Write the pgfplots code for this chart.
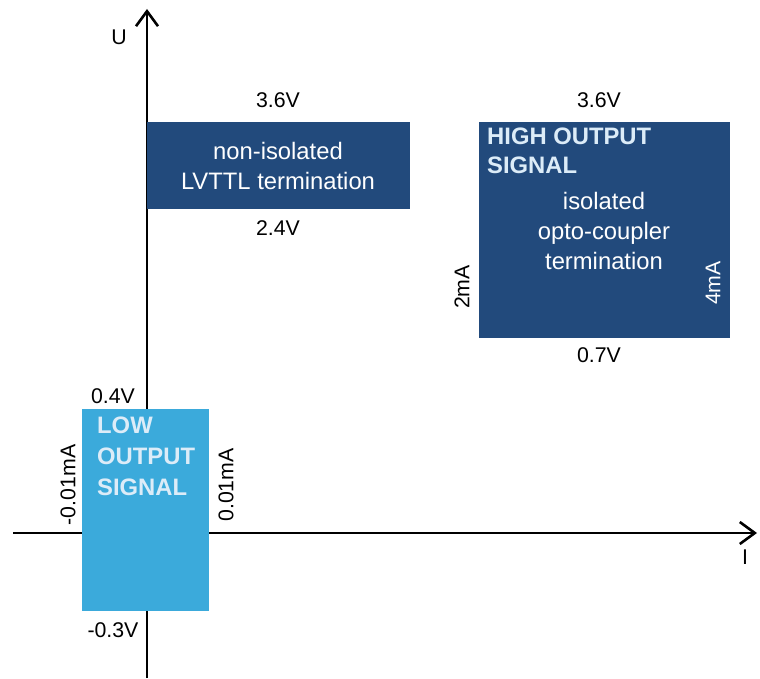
\documentclass[border=0pt]{standalone}
\usepackage{pgfplots}
\pgfplotsset{compat=1.18}
\usepackage{fontspec}
\setmainfont{Liberation Sans}
\usetikzlibrary{arrows.meta}
\definecolor{darkblue}{HTML}{224A7C}
\definecolor{lightblue}{HTML}{3BAADB}
\definecolor{paletext}{HTML}{DCECF8}
\tikzset{lbl/.style={font=\fontsize{21.3bp}{30bp}\selectfont, inner sep=0pt},
         inr/.style={font=\fontsize{23.8bp}{30bp}\selectfont, inner sep=0pt}}
\begin{document}
\begin{tikzpicture}
\begin{axis}[name=ax,
  width=760bp, height=678bp, scale only axis,
  xmin=0, xmax=760, ymin=0, ymax=678,
  hide axis, clip=false]
% axes
\addplot[line width=2.6bp, black, -{Straight Barb[length=15bp,width=22bp,line width=2.6bp]}] coordinates {(147,0) (147,669)};
\addplot[line width=2.6bp, black, -{Straight Barb[length=15bp,width=22bp,line width=2.6bp]}] coordinates {(13,145) (757,145)};
% rectangles
\addplot[draw=none, fill=lightblue] coordinates {(82,67) (209,67) (209,269) (82,269)} --cycle;
\addplot[draw=none, fill=darkblue] coordinates {(147,469) (410,469) (410,556) (147,556)} --cycle;
\addplot[draw=none, fill=darkblue] coordinates {(479,340) (730,340) (730,556) (479,556)} --cycle;
% labels
\node[lbl] at (axis cs:119,641) {U};
\node[lbl] at (axis cs:745,121) {I};
\node[lbl] at (axis cs:278,578) {3.6V};
\node[lbl] at (axis cs:278,450) {2.4V};
\node[lbl] at (axis cs:599,578) {3.6V};
\node[lbl] at (axis cs:599,323) {0.7V};
\node[lbl, rotate=90] at (axis cs:462,391) {2mA};
\node[lbl, rotate=90, text=white] at (axis cs:713,395) {4mA};
\node[lbl] at (axis cs:113,282) {0.4V};
\node[lbl] at (axis cs:113,48) {-0.3V};
\node[lbl, rotate=90] at (axis cs:68,193) {-0.01mA};
\node[lbl, rotate=90] at (axis cs:226,193) {0.01mA};
\node[inr, anchor=west, align=left, text=paletext, font=\fontsize{23.8bp}{31bp}\selectfont\bfseries] at (axis cs:97,222) {LOW\\OUTPUT\\SIGNAL};
\node[inr, anchor=west, align=left, text=paletext, font=\fontsize{23.8bp}{29bp}\selectfont\bfseries] at (axis cs:487,527) {HIGH OUTPUT\\SIGNAL};
\node[inr, align=center, text=white] at (axis cs:604,447) {isolated\\opto-coupler\\termination};
\node[inr, align=center, text=white] at (axis cs:278,512) {non-isolated\\LVTTL termination};
\end{axis}
\pgfresetboundingbox
\path[use as bounding box] (ax.south west) rectangle (ax.north east);
\end{tikzpicture}
\end{document}
